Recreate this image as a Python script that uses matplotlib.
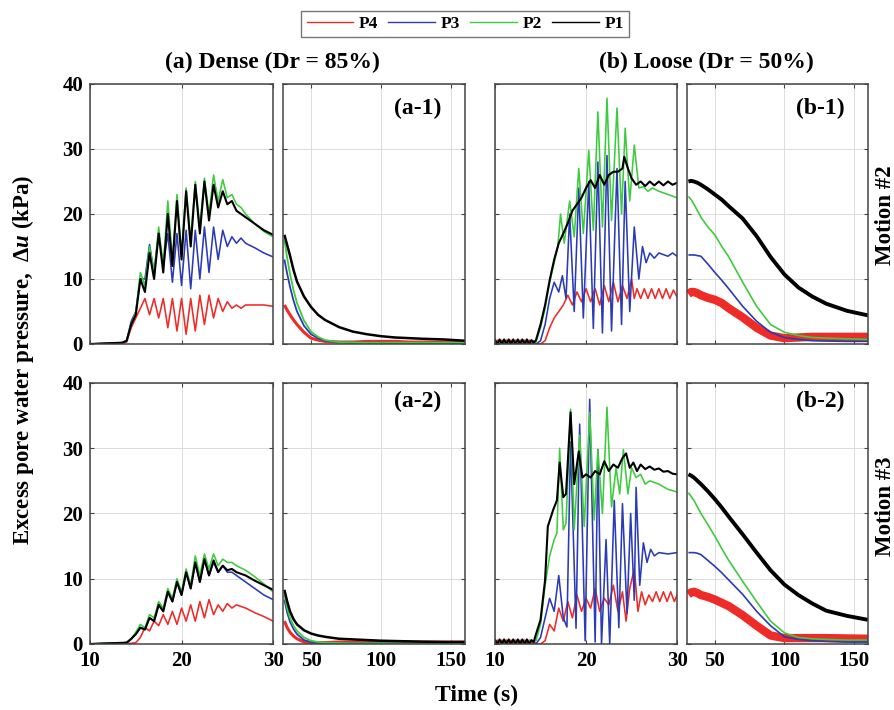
import matplotlib
matplotlib.use('Agg')
import matplotlib.pyplot as plt
from matplotlib.lines import Line2D

plt.rcParams['font.family'] = ['Liberation Serif', 'DejaVu Serif']
plt.rcParams['font.weight'] = 'bold'
plt.rcParams['mathtext.fontset'] = 'custom'
plt.rcParams['mathtext.it'] = 'Liberation Serif:italic:bold'
plt.rcParams['mathtext.rm'] = 'Liberation Serif:bold'
plt.rcParams['mathtext.bf'] = 'Liberation Serif:bold'

# ---------------- data ----------------
SERIES = ['P4', 'P3', 'P2', 'P1']
COLORS = {'P4': '#ee2b26', 'P3': '#2b3bb5', 'P2': '#3ecb3e', 'P1': '#000000'}

LEFT_XTICKS = [10, 20, 30]
RIGHT_XTICKS = [50, 100, 150]
YTICKS = [0, 10, 20, 30, 40]

# (a-1) dense, motion #2, shaking phase
A1_T = [10, 13.5, 14, 14.5, 15, 15.5, 16, 16.5, 17, 17.5, 18, 18.5, 19, 19.5, 20, 20.5,
        21, 21.5, 22, 22.5, 23, 23.5, 24, 24.5, 25, 25.5, 26, 26.5, 27, 28, 29, 30]
A1_P1 = [0, 0.2, 0.5, 3, 4.5, 10, 8, 14, 10, 17, 11, 20, 12, 22, 13, 23.5,
         15, 24.5, 17, 25, 19, 24.5, 21, 23.5, 21.5, 22, 20.5, 20, 19.5, 18.5, 17.5, 16.8]
A1_P2 = [0, 0.2, 0.5, 3, 5, 11, 9, 15, 11, 18, 12, 22, 13, 23, 14, 24,
         16, 25, 18, 25.5, 20, 26, 22, 25.3, 22.5, 23, 21.5, 21, 20, 18.5, 17.3, 16.5]
A1_P3 = [0, 0.2, 0.5, 3.5, 5, 10, 10, 15.3, 11, 17, 12, 17, 9.5, 17, 9, 17.5,
         8.5, 17.5, 10, 18, 11, 18, 13, 17.5, 15, 16.5, 15.5, 16.3, 15.5, 14.8, 14, 13.4]
A1_P4 = [0, 0.1, 0.3, 2.5, 4, 5.5, 7, 4.5, 7, 4, 7, 2.5, 7, 2, 7, 1.5,
         7, 2, 7.5, 3, 7.5, 4, 7, 5, 6.5, 5.5, 6, 5.5, 6, 6, 6, 5.8]

# (a-2) dense, motion #3, shaking phase
A2_T = [10, 14, 14.5, 15, 15.5, 16, 16.5, 17, 17.5, 18, 18.5, 19, 19.5, 20, 20.5,
        21, 21.5, 22, 22.5, 23, 23.5, 24, 24.5, 25, 25.5, 26, 27, 28, 29, 30]
A2_P1 = [0, 0.2, 0.8, 1.5, 2.5, 2.2, 4, 3.5, 6, 5, 8, 6.5, 9.5, 7.5, 11,
         8.5, 12.5, 9.5, 13, 10.5, 12.8, 11, 12, 11.3, 11.5, 11, 10.5, 9.7, 9, 8.3]
A2_P2 = [0, 0.2, 0.8, 1.8, 3, 2.5, 4.5, 4, 6.5, 5.5, 8.5, 7, 10, 8, 11.5,
         9, 13.5, 10.5, 13.8, 11.5, 13.8, 12, 13, 12.5, 12.5, 12, 11.3, 10.3, 9.2, 8]
A2_P3 = [0, 0.2, 0.7, 1.5, 2.5, 2.3, 4, 3.5, 6, 5, 8, 6.5, 9.5, 7.5, 11,
         8.5, 12.5, 9.5, 13, 10.5, 12.5, 11, 12, 11, 11, 10.5, 9.5, 8.5, 7.5, 6.8]
A2_P4 = [0, 0.1, 0.1, 0.2, 1, 2.5, 2, 3.5, 2.8, 4.5, 3, 5, 3, 5.5, 3.5,
         6, 3.5, 6.5, 4, 6.8, 4.5, 6, 5, 6.2, 5.5, 6, 5.5, 4.8, 4.2, 3.5]

# (b-1) loose, motion #2, shaking phase  (time, value)
B1_P1 = [(10, 0.6), (10.25, 0), (10.5, 0.7), (10.75, 0), (11, 0.7), (11.25, 0), (11.5, 0.7),
         (11.75, 0), (12, 0.7), (12.25, 0), (12.5, 0.7), (12.75, 0), (13, 0.7), (13.25, 0),
         (13.5, 0.7), (13.75, 0), (14, 0.6), (14.25, 0.2), (14.5, 0.6), (15, 3), (15.5, 6),
         (16, 9.8), (16.5, 13), (17, 15.5), (17.5, 17), (18, 18.6), (18.5, 20.5), (19, 21.5),
         (19.5, 22.5), (20, 24), (20.5, 25.2), (21, 24), (21.5, 26), (22, 24.5), (22.5, 26),
         (23, 26.5), (23.5, 26.5), (24, 27), (24.2, 28.8), (24.6, 27), (25, 25.5), (25.5, 24.5),
         (26, 25), (26.5, 24.3), (27, 25), (27.5, 24.4), (28, 25), (28.5, 24.4), (29, 25),
         (29.5, 24.5), (30, 24.8)]
B1_P2 = [(10, 0.3), (14.5, 0.3), (15, 2.5), (15.5, 5.5), (16, 9.5), (16.5, 12.5), (16.9, 15),
         (17.2, 20), (17.6, 15.5), (18.2, 22), (18.7, 16.5), (19.2, 27), (19.7, 17), (20.3, 29.8),
         (20.8, 17.5), (21.3, 35.7), (21.8, 18), (22.3, 37.8), (22.8, 19), (23.4, 36.3), (23.9, 20),
         (24.3, 33.2), (24.8, 22), (25.3, 30.6), (25.8, 24), (26.3, 24.2), (26.8, 23.5),
         (27.3, 24), (28, 23.5), (29, 23), (30, 22.5)]
B1_P3 = [(10, 0), (14.5, 0), (15, 0.5), (15.5, 3), (16, 7), (16.5, 9.5), (17, 8), (17.4, 10.5),
         (17.8, 7), (18.2, 20), (18.7, 5), (19.2, 24), (19.7, 4), (20.3, 25), (20.8, 2.4),
         (21.3, 28), (21.8, 1.7), (22.3, 29), (22.8, 2), (23.4, 27), (23.9, 3), (24.3, 25),
         (24.8, 5), (25.3, 18), (25.8, 10), (26.2, 15), (26.6, 12.5), (27, 14), (27.5, 13.2),
         (28, 14), (29, 13.5), (29.5, 14), (30, 13.5)]
B1_P4 = [(10, 0), (10.25, 0.6), (10.5, 0), (10.75, 0.6), (11, 0), (11.25, 0.6), (11.5, 0),
         (11.75, 0.6), (12, 0), (12.25, 0.6), (12.5, 0), (12.75, 0.6), (13, 0), (13.25, 0.6),
         (13.5, 0), (13.75, 0.6), (14, 0), (14.25, 0.5), (14.5, 0), (15, 0), (15.5, 0.5),
         (16, 2.5), (16.5, 4), (17, 5), (17.5, 6), (18, 7.5), (18.5, 6), (19, 8), (19.5, 6.5),
         (20, 8.5), (20.5, 6.5), (21, 8.5), (21.5, 6), (22, 9), (22.5, 6.5), (23, 9.5),
         (23.5, 6.5), (24, 9), (24.5, 7), (25, 10), (25.3, 7), (25.6, 8.5), (26, 7), (26.4, 8.5),
         (26.8, 7), (27.2, 8.5), (27.6, 7), (28, 8.5), (28.4, 7), (28.8, 8.5), (29.2, 7),
         (29.6, 8.3), (30, 7.2)]

# (b-2) loose, motion #3, shaking phase  (time, value)
B2_P1 = [(10, 0.6), (10.25, 0), (10.5, 0.7), (10.75, 0), (11, 0.7), (11.25, 0), (11.5, 0.7),
         (11.75, 0), (12, 0.7), (12.25, 0), (12.5, 0.7), (12.75, 0), (13, 0.7), (13.25, 0),
         (13.5, 0.7), (13.75, 0), (14, 0.6), (14.25, 0.3), (14.5, 1.5), (15, 3.7), (15.5, 9.8),
         (15.8, 18), (16.4, 20.6), (16.8, 22), (17.1, 27.8), (17.5, 22.5), (17.8, 23),
         (18.3, 35.5), (18.7, 24.5), (19.2, 29.5), (19.6, 25.5), (20, 26), (20.5, 25.5),
         (21, 26.5), (21.5, 26), (22, 28), (22.5, 26.5), (23, 27.5), (23.5, 27), (24, 28.5),
         (24.4, 29.2), (24.8, 27), (25.2, 27.8), (25.6, 26.5), (26, 27.5), (26.5, 26.8),
         (27, 27.2), (27.5, 26.7), (28, 26.9), (28.5, 26.4), (29, 26.5), (29.5, 26.1), (30, 26)]
B2_P2 = [(10, 0.2), (14.5, 0.5), (15, 3), (15.5, 9), (16, 13.5), (16.5, 16), (16.8, 17),
         (17.1, 30), (17.5, 17.5), (17.8, 18.5), (18.3, 36), (18.7, 17.5), (19.3, 32), (19.8, 18),
         (20.4, 35.5), (20.9, 19), (21.3, 29.8), (21.8, 20), (22.3, 36.3), (22.8, 21), (23.3, 27),
         (23.7, 23), (24.1, 29.8), (24.6, 23), (25, 27), (25.5, 25.5), (26, 26), (26.5, 24.5),
         (27, 25), (28, 24.5), (29, 23.7), (30, 23.3)]
B2_P3 = [(10, 0), (14.5, 0), (15, 1), (15.5, 4), (16, 7), (16.5, 5), (17, 10.5), (17.5, 4),
         (17.9, 2.6), (18.3, 31), (18.9, 2.4), (19.3, 33.7), (19.9, 0.5), (20.4, 37.5), (21, 0.3),
         (21.3, 29.8), (21.7, 0), (22.2, 16), (22.6, 0), (23.1, 22), (23.6, 2.5), (24, 21.5),
         (24.5, 4.7), (24.9, 20), (25.3, 6.7), (25.5, 24), (25.9, 9), (26.3, 15.5), (26.7, 12.5),
         (27.1, 14.5), (27.5, 13.5), (28, 14), (29, 13.8), (30, 14)]
B2_P4 = [(10, 0), (10.25, 0.6), (10.5, 0), (10.75, 0.6), (11, 0), (11.25, 0.6), (11.5, 0),
         (11.75, 0.6), (12, 0), (12.25, 0.6), (12.5, 0), (12.75, 0.6), (13, 0), (13.25, 0.6),
         (13.5, 0), (13.75, 0.6), (14, 0), (14.25, 0.5), (14.5, 0), (15, 0), (15.5, 0.5),
         (16, 3), (16.5, 2), (17, 5.5), (17.5, 3.5), (18, 6.5), (18.5, 4), (19, 7.5), (19.5, 5),
         (20, 7), (20.5, 5.5), (21, 8.5), (21.5, 5), (22, 7), (22.5, 6), (23, 9), (23.5, 5),
         (24, 8), (24.4, 3.5), (24.8, 8.5), (25.3, 11.5), (25.7, 5), (26.1, 8), (26.5, 6),
         (26.9, 7.5), (27.3, 6.5), (27.7, 8), (28.1, 6.5), (28.5, 8), (28.9, 6.5), (29.3, 8),
         (29.7, 6.5), (30, 7.5)]

# dissipation phase (30-160 s), common time grid
R_T = [31, 33, 35, 37.5, 40, 45, 50, 55, 60, 70, 80, 90, 100, 110, 120, 130, 145, 160]
A1R_P1 = [16.8, 15.2, 13.6, 11.4, 9.6, 7.3, 5.7, 4.5, 3.7, 2.6, 1.9, 1.5, 1.2, 1.0, 0.9, 0.8, 0.7, 0.5]
A1R_P2 = [16.0, 13.2, 10.8, 8.3, 6.3, 3.6, 1.9, 1.1, 0.6, 0.3, 0.25, 0.2, 0.2, 0.2, 0.2, 0.2, 0.2, 0.2]
A1R_P3 = [13.0, 10.8, 8.8, 6.7, 5.0, 2.8, 1.5, 0.9, 0.5, 0.3, 0.2, 0.2, 0.2, 0.1, 0.1, 0.1, 0.1, 0.1]
A1R_P4 = [6.0, 5.2, 4.5, 3.7, 3.0, 1.8, 0.9, 0.6, 0.4, 0.3, 0.3, 0.4, 0.4, 0.4, 0.3, 0.3, 0.3, 0.3]

A2R_P1 = [8.3, 6.5, 5.0, 3.8, 3.0, 2.1, 1.6, 1.3, 1.1, 0.8, 0.7, 0.6, 0.5, 0.45, 0.4, 0.35, 0.3, 0.3]
A2R_P2 = [7.5, 5.5, 4.0, 2.8, 2.0, 1.0, 0.5, 0.3, 0.2, 0.15, 0.1, 0.1, 0.1, 0.1, 0.1, 0.1, 0.1, 0.1]
A2R_P3 = [6.8, 4.8, 3.4, 2.3, 1.5, 0.6, 0.3, 0.2, 0.1, 0.1, 0.1, 0.1, 0.1, 0.1, 0.1, 0.1, 0.1, 0.1]
A2R_P4 = [3.5, 2.5, 1.8, 1.2, 0.8, 0.3, 0.2, 0.2, 0.2, 0.3, 0.3, 0.3, 0.3, 0.3, 0.3, 0.3, 0.3, 0.3]

B1R_P1 = [25.0, 25.1, 25.0, 24.8, 24.5, 23.8, 23.0, 22.2, 21.2, 19.3, 16.6, 13.4, 10.7, 8.7, 7.3, 6.2, 5.1, 4.4]
B1R_P2 = [22.7, 22.2, 21.5, 20.5, 19.5, 18.0, 16.8, 15.0, 13.4, 9.5, 5.8, 3.0, 1.8, 1.3, 1.0, 0.9, 0.8, 0.7]
B1R_P3 = [13.7, 13.7, 13.7, 13.6, 13.5, 12.3, 11.0, 9.8, 8.5, 5.8, 3.5, 1.8, 1.0, 0.7, 0.5, 0.45, 0.4, 0.4]
B1R_P4 = [7.7, 8.0, 8.0, 7.8, 7.5, 7.1, 6.8, 6.3, 5.5, 4.1, 2.5, 1.3, 0.9, 1.0, 1.1, 1.1, 1.1, 1.1]

B2R_P1 = [26.0, 25.8, 25.5, 25.0, 24.5, 23.4, 22.2, 20.9, 19.5, 16.8, 14.0, 11.3, 9.1, 7.5, 6.2, 5.1, 4.3, 3.7]
B2R_P2 = [23.2, 22.6, 22.0, 21.0, 20.0, 18.3, 16.5, 14.6, 12.8, 9.6, 6.5, 3.5, 1.7, 1.0, 0.8, 0.7, 0.6, 0.6]
B2R_P3 = [14.0, 14.0, 14.0, 13.9, 13.7, 12.8, 11.9, 10.9, 9.8, 7.6, 5.0, 2.8, 1.1, 0.7, 0.5, 0.4, 0.3, 0.3]
B2R_P4 = [7.6, 7.9, 8.0, 7.8, 7.5, 7.2, 6.8, 6.3, 5.8, 4.4, 2.8, 1.3, 0.9, 0.9, 0.9, 0.9, 0.85, 0.8]

# ---------------- figure ----------------
fig = plt.figure(figsize=(8.95, 7.10), dpi=100)

COLS = [(0.1006, 0.2045), (0.3162, 0.2034), (0.5531, 0.2034), (0.7676, 0.2022)]
ROWS = [(0.5155, 0.3662), (0.0930, 0.3676)]
SPINE = '#444444'


def style(ax, left_half, show_x, show_y):
    ax.set_ylim(0, 40)
    if left_half:
        ax.set_xlim(10, 30)
        ax.set_xticks(LEFT_XTICKS)
    else:
        ax.set_xlim(30, 160)
        ax.set_xticks(RIGHT_XTICKS)
    ax.set_yticks(YTICKS)
    ax.grid(True, color='#dcdcdc', lw=0.7)
    ax.set_axisbelow(True)
    for s in ax.spines.values():
        s.set_color(SPINE)
        s.set_linewidth(1.1)
    ax.tick_params(direction='in', length=3, width=0.8, color=SPINE,
                   labelsize=15, pad=5, top=True, right=True)
    if not show_x:
        ax.set_xticklabels([])
    if not show_y:
        ax.set_yticklabels([])


def split(pairs):
    return [p[0] for p in pairs], [p[1] for p in pairs]


lw_left = 1.15
panels_left = [
    (0, 0, {'P1': (A1_T, A1_P1), 'P2': (A1_T, A1_P2), 'P3': (A1_T, A1_P3), 'P4': (A1_T, A1_P4)}),
    (1, 0, {'P1': (A2_T, A2_P1), 'P2': (A2_T, A2_P2), 'P3': (A2_T, A2_P3), 'P4': (A2_T, A2_P4)}),
    (0, 2, {'P1': split(B1_P1), 'P2': split(B1_P2), 'P3': split(B1_P3), 'P4': split(B1_P4)}),
    (1, 2, {'P1': split(B2_P1), 'P2': split(B2_P2), 'P3': split(B2_P3), 'P4': split(B2_P4)}),
]
for r, c, d in panels_left:
    ax = fig.add_axes([COLS[c][0], ROWS[r][0], COLS[c][1], ROWS[r][1]])
    for s in SERIES:
        t, u = d[s]
        ax.plot(t, u, color=COLORS[s], lw=1.5 if s == 'P1' else lw_left)
    style(ax, True, r == 1, c == 0)

panels_right = [
    (0, 1, {'P1': A1R_P1, 'P2': A1R_P2, 'P3': A1R_P3, 'P4': A1R_P4}, '(a-1)', 'a'),
    (1, 1, {'P1': A2R_P1, 'P2': A2R_P2, 'P3': A2R_P3, 'P4': A2R_P4}, '(a-2)', 'a'),
    (0, 3, {'P1': B1R_P1, 'P2': B1R_P2, 'P3': B1R_P3, 'P4': B1R_P4}, '(b-1)', 'b'),
    (1, 3, {'P1': B2R_P1, 'P2': B2R_P2, 'P3': B2R_P3, 'P4': B2R_P4}, '(b-2)', 'b'),
]
LW_RIGHT = {'a': {'P1': 1.8, 'P2': 1.3, 'P3': 1.3, 'P4': 2.2},
            'b': {'P1': 2.8, 'P2': 1.2, 'P3': 1.2, 'P4': 6.0}}
for r, c, d, lab, kind in panels_right:
    ax = fig.add_axes([COLS[c][0], ROWS[r][0], COLS[c][1], ROWS[r][1]])
    for s in SERIES:
        ax.plot(R_T, d[s], color=COLORS[s], lw=LW_RIGHT[kind][s],
                solid_capstyle='butt', solid_joinstyle='round')
    style(ax, False, r == 1, False)
    ax.text(0.87, 0.906 if r == 0 else 0.93, lab, transform=ax.transAxes,
            ha='right', va='center', fontsize=17, weight='bold')

# titles and labels
fig.text(0.3045, 0.9127, '(a) Dense (Dr = 85%)', ha='center', va='center',
         fontsize=17, weight='bold')
fig.text(0.789, 0.9127, '(b) Loose (Dr = 50%)', ha='center', va='center',
         fontsize=17, weight='bold')
fig.text(0.026, 0.493, 'Excess pore water pressure,  $\\mathit{\\Delta u}$ (kPa)',
         rotation=90, ha='center', va='center', fontsize=16.5, weight='bold')
fig.text(0.533, 0.021, 'Time (s)', ha='center', va='center', fontsize=17, weight='bold')
fig.text(0.989, 0.697, 'Motion #2', rotation=90, ha='center', va='center',
         fontsize=16.5, weight='bold')
fig.text(0.989, 0.287, 'Motion #3', rotation=90, ha='center', va='center',
         fontsize=16.5, weight='bold')

handles = [Line2D([], [], color=COLORS[s], lw=1.0) for s in SERIES]
leg = fig.legend(handles, SERIES, loc='center', bbox_to_anchor=(0.5196, 0.966),
                 ncol=4, frameon=True, fancybox=False,
                 handlelength=2.7, handletextpad=0.3, columnspacing=0.6,
                 borderpad=0.3, prop={'weight': 'bold', 'size': 12.5})
leg.get_frame().set_edgecolor('#555555')
leg.get_frame().set_linewidth(1.0)

fig.savefig('out.png', dpi=100)
